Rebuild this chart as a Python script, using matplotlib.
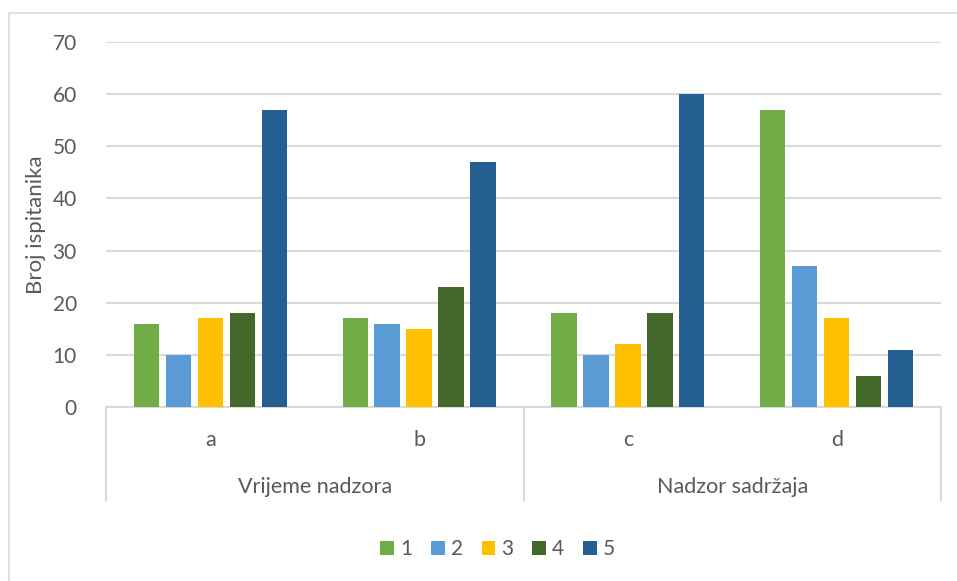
import matplotlib.pyplot as plt
import numpy as np
from matplotlib.patches import Rectangle
from matplotlib.lines import Line2D

categories = ['a', 'b', 'c', 'd']
groups = ['Vrijeme nadzora', 'Nadzor sadržaja']
series_names = ['1', '2', '3', '4', '5']
values = {
    '1': [16, 17, 18, 57],
    '2': [10, 16, 10, 27],
    '3': [17, 15, 12, 17],
    '4': [18, 23, 18, 6],
    '5': [57, 47, 60, 11],
}
colors = ['#70AD47', '#5B9BD5', '#FFC000', '#43682B', '#255E91']

plt.rcParams['font.family'] = ['Lato', 'DejaVu Sans']
txt = '#595959'
grid_c = '#D9D9D9'

fig = plt.figure(figsize=(9.57, 5.81), dpi=100)
ax = fig.add_axes([106 / 957, 1 - 407 / 581, 835 / 957, 365 / 581])

# chart border
fig.patches.append(Rectangle((9 / 957, -0.05), 1.0, 1 - 13 / 581 + 0.05,
                             transform=fig.transFigure, fill=False,
                             edgecolor=grid_c, linewidth=1.2))

x = np.arange(len(categories))
pitch = 0.153
width = 0.122
for i, name in enumerate(series_names):
    ax.bar(x + (i - 2) * pitch, values[name], width=width, color=colors[i],
           label=name, zorder=3)

ax.set_xlim(-0.5, 3.5)
ax.set_ylim(0, 70)
ax.set_yticks(range(0, 71, 10))
ax.yaxis.grid(True, color=grid_c, linewidth=1.5, zorder=0)
ax.tick_params(axis='y', length=0, labelsize=15, labelcolor=txt, pad=21)
ax.set_xticks([])
for s in ['top', 'right', 'left']:
    ax.spines[s].set_visible(False)
ax.spines['bottom'].set_color(grid_c)
ax.spines['bottom'].set_linewidth(1.5)

ax.set_ylabel('Broj ispitanika', fontsize=16, color=txt, labelpad=5)

# multi-level category axis
trans = ax.get_xaxis_transform()
for xi, c in zip(x, categories):
    ax.text(xi, -0.09, c, transform=trans, ha='center', va='center',
            fontsize=15.5, color=txt)
for gi, g in enumerate(groups):
    ax.text(0.5 + gi * 2, -0.22, g, transform=trans, ha='center', va='center',
            fontsize=15.5, color=txt)
for xs in [-0.5, 1.5, 3.5]:
    ax.add_line(Line2D([xs, xs], [0, -0.255], transform=trans, color=grid_c,
                       linewidth=1.5, clip_on=False))

ax.legend(loc='center', bbox_to_anchor=(0.52, 0.055),
          bbox_transform=fig.transFigure, ncol=5, frameon=False,
          fontsize=15, labelcolor=txt, handlelength=0.65, handleheight=0.65,
          handletextpad=0.3, columnspacing=0.9)

fig.savefig('out.png', dpi=100)
